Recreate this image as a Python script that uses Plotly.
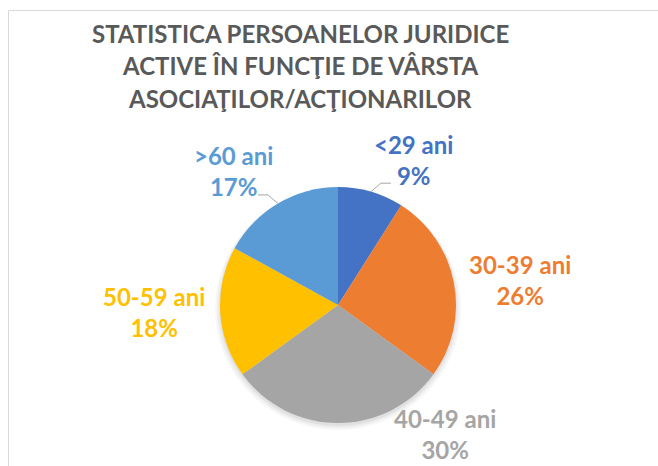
import math
import plotly.graph_objects as go

# ---- data ----
categories = ["<29 ani", "30-39 ani", "40-49 ani", "50-59 ani", ">60 ani"]
values = [9, 26, 30, 18, 17]
title_lines = ["STATISTICA PERSOANELOR JURIDICE",
               "ACTIVE ÎN FUNCŢIE DE VÂRSTA",
               "ASOCIAŢILOR/ACŢIONARILOR"]

# ---- style ----
colors = ["#4472C4", "#ED7D31", "#A5A5A5", "#FFC000", "#5B9BD5"]
W, H = 658, 466
CX, CY, R = 338, 305, 118          # pie centre / radius in pixels
FONT = "Lato"
# label centre offsets from pie centre (pixels)
label_off = [(75, -145), (182, -25), (107, 129), (-184, 7), (-105, -134)]
leader = [True, False, False, False, True]
leader_dir = [1, 0, 0, 0, -1]

def px(x):
    return x / W

def py(y):
    return 1 - y / H

fig = go.Figure(go.Pie(
    labels=categories,
    values=values,
    sort=False,
    direction="clockwise",
    rotation=0,
    marker=dict(colors=colors, line=dict(width=0)),
    textinfo="none",
    hoverinfo="label+percent",
    showlegend=False,
    domain=dict(x=[px(CX - R), px(CX + R)], y=[py(CY + R), py(CY - R)]),
))

annotations = []
for i, t in enumerate(title_lines):
    annotations.append(dict(
        text=f"<b>{t}</b>", x=px(300), y=py(33.5 + 32.3 * i), xref="paper", yref="paper",
        showarrow=False, xanchor="center", yanchor="middle",
        font=dict(family=FONT, size=24, color="#595959")))

shapes = [dict(type="rect", xref="paper", yref="paper",
               x0=px(8.5), x1=1.2, y0=-0.2, y1=py(10.5),
               line=dict(color="#D9D9D9", width=1), fillcolor="rgba(0,0,0,0)", layer="below")]

# soft shadow under the pie
for k, a in enumerate([0.05, 0.04, 0.03]):
    s = 2 + k * 2
    shapes.append(dict(type="circle", xref="paper", yref="paper",
                       x0=px(CX - R - s + 1), x1=px(CX + R + s - 1),
                       y0=py(CY + R + s + 1), y1=py(CY - R + 1),
                       line=dict(width=0), fillcolor=f"rgba(0,0,0,{a})", layer="below"))

total = sum(values)
cum = 0
for i, (cat, v) in enumerate(zip(categories, values)):
    mid = (cum + v / 2) / total * 2 * math.pi
    cum += v
    pct = round(v / total * 100)
    dx, dy = label_off[i]
    annotations.append(dict(
        text=f"<b>{cat}<br>{pct}%</b>", x=px(CX + dx), y=py(CY + dy),
        xref="paper", yref="paper", showarrow=False,
        xanchor="center", yanchor="middle", align="center",
        font=dict(family=FONT, size=24, color=colors[i])))
    if leader[i]:
        ex = CX + R * math.sin(mid)
        ey = CY - R * math.cos(mid)
        d = leader_dir[i]
        bx, by = ex + 10 * d, ey - 8.5
        fx = bx + 10 * d
        shapes.append(dict(type="path", xref="paper", yref="paper",
                           path=f"M {px(ex)} {py(ey)} L {px(bx)} {py(by)} L {px(fx)} {py(by)}",
                           line=dict(color="#A6A6A6", width=1)))

fig.update_layout(
    width=W, height=H,
    margin=dict(l=0, r=0, t=0, b=0),
    paper_bgcolor="white", plot_bgcolor="white",
    annotations=annotations, shapes=shapes,
)
fig.write_html("out.html", config={"displayModeBar": False},
               post_script="document.body.style.margin='0';document.body.style.overflow='hidden';")
